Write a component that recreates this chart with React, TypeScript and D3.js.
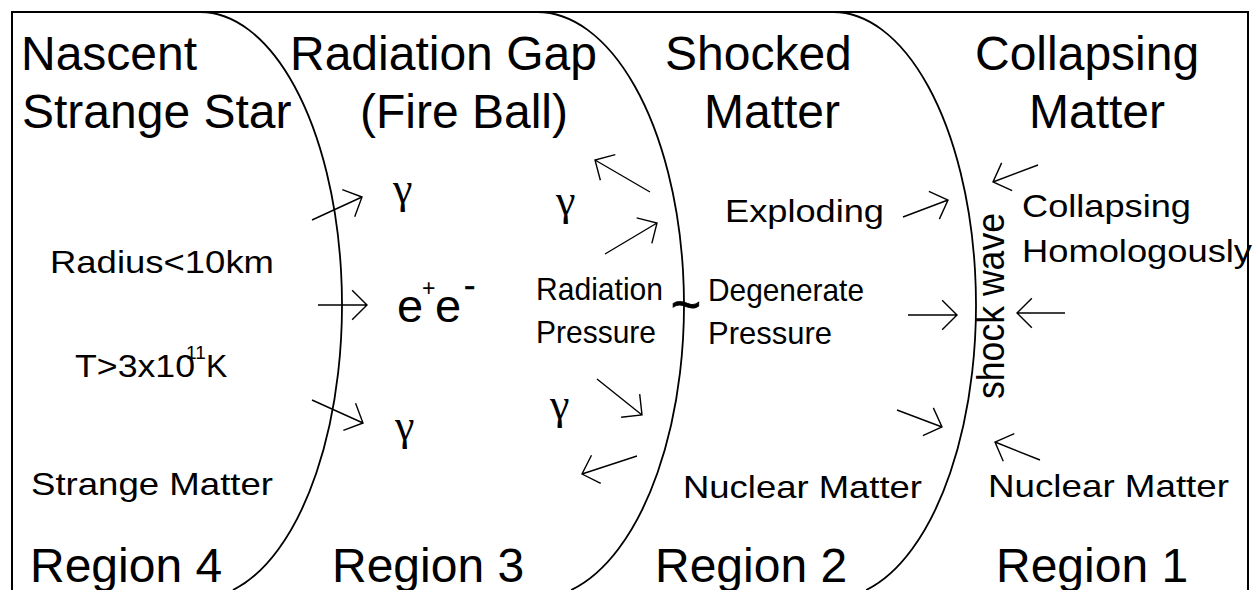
import React, { useEffect, useRef } from "react";
import * as d3 from "d3";

const W = 1257;
const H = 590;
const FONT = "'Liberation Sans', Arial, sans-serif";
const GREEK = "'Liberation Serif', 'Times New Roman', serif";

// region boundaries: right halves of ellipses, top point x and horizontal radius
const boundaryTopX = [200, 537, 833];
const boundaryRx = [142, 147, 143];
const boundaryCy = 305;
const boundaryRy = 293;

// big headings [text, x, baseline]
const headings: [string, number, number][] = [
  ["Nascent", 21, 70],
  ["Strange Star", 22, 128],
  ["Radiation Gap", 290, 70],
  ["(Fire Ball)", 360, 128],
  ["Shocked", 665, 70],
  ["Matter", 704, 128],
  ["Collapsing", 975, 70],
  ["Matter", 1029, 128],
];

const regionNames = ["Region 4", "Region 3", "Region 2", "Region 1"];
const regionX = [30, 332, 655, 996];
const regionY = 582;

// smaller notes [text, x, baseline, width]
const notes: [string, number, number, number][] = [
  ["Radius<10km", 50, 273, 224],
  ["Strange Matter", 31, 495, 242],
  ["Radiation", 536, 300, 127],
  ["Pressure", 536, 343, 120],
  ["Degenerate", 708, 301, 156],
  ["Pressure", 708, 344, 124],
  ["Exploding", 725, 222, 159],
  ["Collapsing", 1022, 217, 169],
  ["Homologously", 1022, 262, 230],
  ["Nuclear Matter", 683, 498, 239],
  ["Nuclear Matter", 988, 497, 241],
];

// photons [x, baseline]
const gammas: [number, number][] = [
  [393, 203],
  [556, 215],
  [395, 440],
  [550, 419],
];

// arrows [x tail, y tail, x head, y head]
const arrows: [number, number, number, number][] = [
  [312, 220, 362, 197],
  [318, 305, 367, 305],
  [312, 400, 363, 423],
  [650, 192, 595, 160],
  [605, 254, 657, 223],
  [597, 379, 642, 415],
  [637, 456, 582, 474],
  [903, 217, 948, 200],
  [908, 315, 957, 315],
  [897, 410, 942, 427],
  [1038, 165, 993, 182],
  [1065, 313, 1017, 313],
  [1040, 460, 995, 442],
];

export default function App() {
  const ref = useRef<SVGSVGElement>(null);

  useEffect(() => {
    const svg = d3.select(ref.current);
    svg.selectAll("*").remove();

    // frame
    svg
      .append("rect")
      .attr("x", 12)
      .attr("y", 12)
      .attr("width", 1236)
      .attr("height", 640)
      .attr("fill", "none")
      .attr("stroke", "#000")
      .attr("stroke-width", 2);

    // boundary curves
    boundaryTopX.forEach((cx, i) => {
      const rx = boundaryRx[i];
      const t = (H - boundaryCy) / boundaryRy;
      const ex = cx + rx * Math.sqrt(1 - t * t);
      const p = d3.path();
      p.moveTo(cx, boundaryCy - boundaryRy);
      svg
        .append("path")
        .attr("d", p.toString() + ` A ${rx} ${boundaryRy} 0 0 1 ${ex} ${H}`)
        .attr("fill", "none")
        .attr("stroke", "#000")
        .attr("stroke-width", 1.8);
    });

    // arrows
    const barb = 21;
    const spread = Math.PI / 4;
    arrows.forEach(([x1, y1, x2, y2]) => {
      const a = Math.atan2(y1 - y2, x1 - x2);
      const p = d3.path();
      p.moveTo(x1, y1);
      p.lineTo(x2, y2);
      p.moveTo(x2 + barb * Math.cos(a - spread), y2 + barb * Math.sin(a - spread));
      p.lineTo(x2, y2);
      p.lineTo(x2 + barb * Math.cos(a + spread), y2 + barb * Math.sin(a + spread));
      svg
        .append("path")
        .attr("d", p.toString())
        .attr("fill", "none")
        .attr("stroke", "#000")
        .attr("stroke-width", 1.4);
    });

    const txt = (s: string, x: number, y: number, size: number) =>
      svg
        .append("text")
        .attr("x", x)
        .attr("y", y)
        .attr("font-family", FONT)
        .attr("font-size", size)
        .attr("fill", "#000")
        .text(s);

    headings.forEach(([s, x, y]) => txt(s, x, y, 48));
    regionNames.forEach((s, i) => txt(s, regionX[i], regionY, 48));

    notes.forEach(([s, x, y, len]) =>
      txt(s, x, y, 32)
        .attr("textLength", len)
        .attr("lengthAdjust", "spacingAndGlyphs")
    );

    // T>3x10^11 K
    txt("T>3x10", 75, 377, 32)
      .attr("textLength", 120)
      .attr("lengthAdjust", "spacingAndGlyphs");
    txt("11", 186, 359, 19);
    txt("K", 206, 377, 32);

    // e+ e-
    txt("e", 397, 322, 47);
    txt("+", 422, 296, 23);
    txt("e", 435, 322, 47);
    txt("-", 464, 297, 34).attr("stroke", "#000").attr("stroke-width", 0.6);

    gammas.forEach(([x, y]) =>
      svg
        .append("text")
        .attr("x", x)
        .attr("y", y)
        .attr("font-family", GREEK)
        .attr("font-size", 44)
        .text("\u03b3")
    );

    // ~ between the two pressures
    txt("~", 686, 322, 52)
      .attr("text-anchor", "middle")
      .attr("stroke", "#000")
      .attr("stroke-width", 0.8);

    // shock wave, read bottom to top
    svg
      .append("text")
      .attr("transform", "translate(1004,399) rotate(-90)")
      .attr("font-family", FONT)
      .attr("font-size", 38)
      .attr("textLength", 186)
      .attr("lengthAdjust", "spacingAndGlyphs")
      .text("shock wave");
  }, []);

  return (
    <svg
      ref={ref}
      width={W}
      height={H}
      style={{ position: "absolute", left: 0, top: 0, background: "#fff" }}
    />
  );
}
